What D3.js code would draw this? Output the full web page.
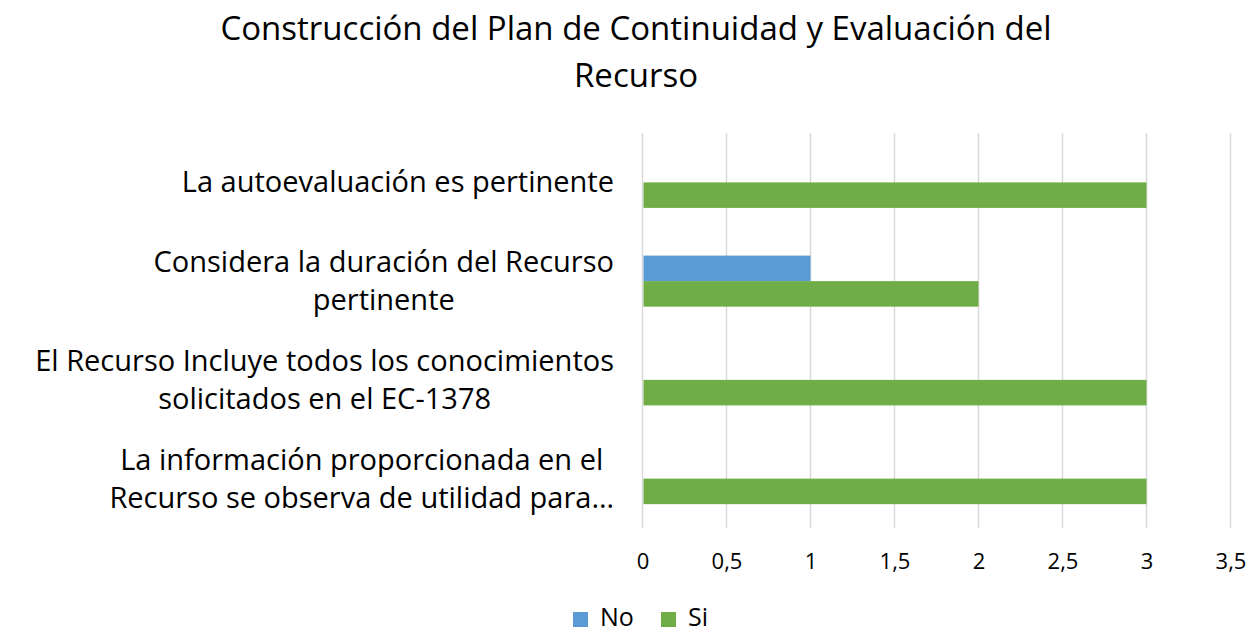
<!DOCTYPE html>
<html>
<head>
<meta charset="utf-8">
<script src="https://cdn.jsdelivr.net/npm/d3@7"></script>
<style>
  body { margin: 0; background: #fff; }
  text { font-family: "Open Sans", Lato, sans-serif; fill: #000; }
</style>
</head>
<body>
<div id="chart"></div>
<script>
// data, top to bottom as it reads on the chart
const categories = [
  'La autoevaluación es pertinente',
  'Considera la duración del Recurso pertinente',
  'El Recurso Incluye todos los conocimientos solicitados en el EC-1378',
  'La información proporcionada en el Recurso se observa de utilidad para…'
];
const categoryLines = [
  ['La autoevaluación es pertinente'],
  ['Considera la duración del Recurso', 'pertinente'],
  ['El Recurso Incluye todos los conocimientos', 'solicitados en el EC-1378'],
  ['La información proporcionada en el', 'Recurso se observa de utilidad para…']
];
const seriesNames = ['No', 'Si'];
const noValues = [0, 1, 0, 0];
const siValues = [3, 2, 3, 3];
const xTicks = [0, 0.5, 1, 1.5, 2, 2.5, 3, 3.5];
const titleLines = ['Construcción del Plan de Continuidad y Evaluación del', 'Recurso'];

const colors = { No: '#5B9BD5', Si: '#70AD47' };
const [width, height] = [1249, 633];
const plot = { left: 642.5, right: 1230.5, top: 133, bottom: 528 };

const rows = categories.map((c, i) => ({ cat: c, lines: categoryLines[i], No: noValues[i], Si: siValues[i] }));

const svg = d3.select('#chart').append('svg')
  .attr('width', width)
  .attr('height', height);

const x = d3.scaleLinear()
  .domain([0, 3.5])
  .range([plot.left, plot.right]);

const y0 = d3.scaleBand()
  .domain(categories)
  .range([plot.top, plot.bottom])
  .paddingInner(0.483)
  .paddingOuter(0.2415);

const y1 = d3.scaleBand()
  .domain(seriesNames)
  .range([0, y0.bandwidth()]);

const esFormat = d3.formatLocale({ decimal: ',', thousands: '.', grouping: [3], currency: ['', ''] }).format('.1~f');

// title
svg.append('g').selectAll('text')
  .data(titleLines)
  .join('text')
  .attr('x', 636)
  .attr('y', (d, i) => 40 + i * 47)
  .attr('text-anchor', 'middle')
  .style('font-size', '33px')
  .text(d => d);

// gridlines
svg.append('g')
  .selectAll('line')
  .data(xTicks)
  .join('line')
  .attr('x1', d => x(d)).attr('x2', d => x(d))
  .attr('y1', plot.top).attr('y2', plot.bottom)
  .attr('stroke', '#D9D9D9')
  .attr('stroke-width', 1.5);

// bars
const groups = svg.append('g')
  .selectAll('g')
  .data(rows)
  .join('g')
  .attr('transform', d => `translate(0, ${y0(d.cat)})`);

groups.selectAll('rect')
  .data(d => seriesNames.map(k => ({ key: k, value: d[k] })))
  .join('rect')
  .attr('x', x(0) + 1)
  .attr('y', d => y1(d.key))
  .attr('width', d => Math.max(0, x(d.value) - x(0) - 1))
  .attr('height', y1.bandwidth())
  .attr('fill', d => colors[d.key]);

// x axis labels
const xAxis = svg.append('g')
  .attr('transform', `translate(0, ${plot.bottom})`)
  .call(d3.axisBottom(x).tickValues(xTicks).tickFormat(esFormat).tickSize(0).tickPadding(25));
xAxis.select('.domain').remove();
xAxis.selectAll('text')
  .style('font-family', '"Open Sans", Lato, sans-serif')
  .style('font-size', '22px')
  .attr('fill', '#000');

// category labels, centered lines, right aligned block
const lineH = 38;
const labels = svg.append('g')
  .selectAll('text')
  .data(rows)
  .join('text')
  .style('font-size', '29px')
  .attr('text-anchor', 'middle');

labels.each(function(d) {
  const t = d3.select(this);
  const n = d.lines.length;
  const cy = y0(d.cat) + y0.bandwidth() / 2;
  const spans = t.selectAll('tspan')
    .data(d.lines)
    .join('tspan')
    .attr('y', (l, i) => cy + (i - (n - 1) / 2) * lineH + 10)
    .text(l => l);
  // widest line ends at the label edge
  let maxW = 0;
  spans.each(function() { maxW = Math.max(maxW, this.getComputedTextLength()); });
  spans.attr('x', 614 - maxW / 2);
});

// legend
const legend = svg.append('g')
  .attr('transform', 'translate(0, 617)');
const legendX = { No: 573, Si: 661 };
const items = legend.selectAll('g')
  .data(seriesNames)
  .join('g')
  .attr('transform', d => `translate(${legendX[d]}, 0)`);
items.append('rect')
  .attr('x', 0).attr('y', -5)
  .attr('width', 15).attr('height', 15)
  .attr('fill', d => colors[d]);
items.append('text')
  .attr('x', 27)
  .attr('y', 9)
  .style('font-size', '25px')
  .text(d => d);
</script>
</body>
</html>
